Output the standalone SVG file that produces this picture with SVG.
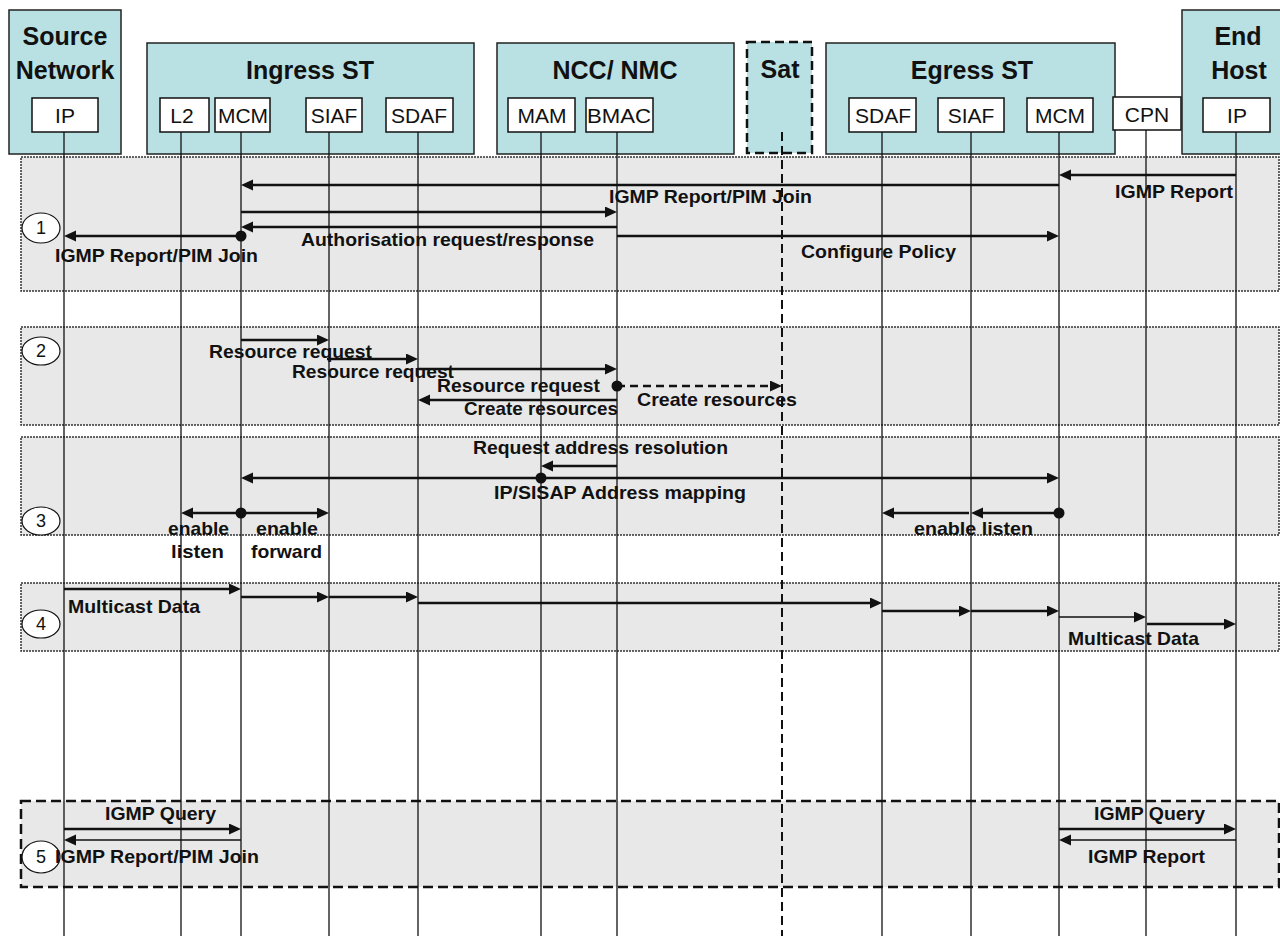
<svg xmlns="http://www.w3.org/2000/svg" width="1280" height="936" viewBox="0 0 1280 936">
<defs>
<style>
.hdr{fill:#b9e1e4;stroke:#222;stroke-width:1.5}
.sb{fill:#fff;stroke:#111;stroke-width:1.5}
.ht{font-family:"Liberation Sans",Arial,sans-serif;font-weight:bold;font-size:25px;fill:#111;text-anchor:middle}
.st{font-family:"Liberation Sans",Arial,sans-serif;font-size:21px;fill:#111;text-anchor:middle}
.sec{fill:#e8e8e8;stroke:#333;stroke-width:1.5;stroke-dasharray:2 1}
.sec5{fill:#e8e8e8;stroke:#111;stroke-width:2.5;stroke-dasharray:10 5}
.life{stroke:#111;stroke-width:1.3}
.lt{font-family:"Liberation Sans",Arial,sans-serif;font-weight:bold;font-size:19px;fill:#111}
.num{font-family:"Liberation Sans",Arial,sans-serif;font-size:18px;fill:#111;text-anchor:middle}
.num-c{fill:#fff;stroke:#111;stroke-width:1.2}
.a{stroke:#111;stroke-width:2.6;fill:none;marker-end:url(#ah)}
.an{stroke:#111;stroke-width:1.6;fill:none;marker-end:url(#ah)}
.ad{stroke:#111;stroke-width:2.4;fill:none;stroke-dasharray:8 5;marker-end:url(#ah)}
.dot{fill:#111}
</style>
<marker id="ah" markerUnits="userSpaceOnUse" markerWidth="13" markerHeight="12" refX="6" refY="5.5" orient="auto">
<path d="M0,0 L12,5.5 L0,11 z" fill="#111"/>
</marker>
</defs>
<rect width="1280" height="936" fill="#fff"/>

<g id="sections">
<rect class="sec" x="21" y="157" width="1258" height="134"/>
<rect class="sec" x="21" y="327" width="1258" height="98"/>
<rect class="sec" x="21" y="437" width="1258" height="98"/>
<rect class="sec" x="21" y="583" width="1258" height="68"/>
<rect class="sec5" x="21" y="801" width="1258" height="86"/>
</g>

<g id="source-network">
<rect class="hdr" x="9" y="10" width="112" height="144"/>
<text class="ht" x="65" y="45">Source</text>
<text class="ht" x="65" y="79">Network</text>
<rect class="sb" x="32" y="98" width="66" height="34"/>
<text class="st" x="65" y="123">IP</text>
</g>

<g id="ingress-st">
<rect class="hdr" x="147" y="43" width="327" height="111"/>
<text class="ht" x="310" y="79">Ingress ST</text>
<rect class="sb" x="160" y="98" width="49" height="34"/>
<text class="st" x="182" y="123">L2</text>
<rect class="sb" x="215" y="98" width="55" height="34"/>
<text class="st" x="243" y="123">MCM</text>
<rect class="sb" x="306" y="98" width="56" height="34"/>
<text class="st" x="334" y="123">SIAF</text>
<rect class="sb" x="386" y="98" width="67" height="34"/>
<text class="st" x="419" y="123">SDAF</text>
</g>

<g id="ncc-nmc">
<rect class="hdr" x="497" y="43" width="237" height="111"/>
<text class="ht" x="615" y="79">NCC/ NMC</text>
<rect class="sb" x="508" y="98" width="67" height="34"/>
<text class="st" x="542" y="123">MAM</text>
<rect class="sb" x="586" y="98" width="67" height="34"/>
<text class="st" x="619" y="123" textLength="64" lengthAdjust="spacingAndGlyphs">BMAC</text>
</g>

<g id="sat">
<rect x="747" y="42" width="65" height="111" fill="#b9e1e4" stroke="#111" stroke-width="2.5" stroke-dasharray="9 5"/>
<text class="ht" x="780" y="78">Sat</text>
</g>

<g id="egress-st">
<rect class="hdr" x="826" y="43" width="289" height="111"/>
<text class="ht" x="972" y="79">Egress ST</text>
<rect class="sb" x="849" y="98" width="67" height="34"/>
<text class="st" x="883" y="123">SDAF</text>
<rect class="sb" x="938" y="98" width="66" height="34"/>
<text class="st" x="971" y="123">SIAF</text>
<rect class="sb" x="1027" y="98" width="66" height="34"/>
<text class="st" x="1060" y="123">MCM</text>
</g>

<g id="cpn">
<rect class="sb" x="1113" y="97" width="68" height="33"/>
<text class="st" x="1147" y="122">CPN</text>
</g>

<g id="end-host">
<rect class="hdr" x="1182" y="10" width="110" height="144"/>
<text class="ht" x="1238" y="45">End</text>
<text class="ht" x="1239" y="79">Host</text>
<rect class="sb" x="1203" y="98" width="67" height="34"/>
<text class="st" x="1237" y="123">IP</text>
</g>

<g id="lifelines">
<line class="life" x1="64" y1="132" x2="64" y2="936"/>
<line class="life" x1="181" y1="132" x2="181" y2="936"/>
<line class="life" x1="241" y1="132" x2="241" y2="936"/>
<line class="life" x1="329" y1="132" x2="329" y2="936"/>
<line class="life" x1="418" y1="132" x2="418" y2="936"/>
<line class="life" x1="541" y1="132" x2="541" y2="936"/>
<line class="life" x1="617" y1="132" x2="617" y2="936"/>
<line x1="782" y1="132" x2="782" y2="936" stroke="#111" stroke-width="2" stroke-dasharray="9 5"/>
<line class="life" x1="882" y1="132" x2="882" y2="936"/>
<line class="life" x1="971" y1="132" x2="971" y2="936"/>
<line class="life" x1="1059" y1="132" x2="1059" y2="936"/>
<line class="life" x1="1146" y1="130" x2="1146" y2="936"/>
<line class="life" x1="1236" y1="132" x2="1236" y2="936"/>
</g>

<g id="step-markers">
<ellipse class="num-c" cx="41" cy="228" rx="19" ry="15"/>
<text class="num" x="41" y="234">1</text>
<ellipse class="num-c" cx="41" cy="351" rx="19" ry="14"/>
<text class="num" x="41" y="357">2</text>
<ellipse class="num-c" cx="41" cy="521" rx="19" ry="14"/>
<text class="num" x="41" y="527">3</text>
<ellipse class="num-c" cx="41" cy="624" rx="19" ry="14"/>
<text class="num" x="41" y="630">4</text>
<ellipse class="num-c" cx="41" cy="857" rx="19" ry="16"/>
<text class="num" x="41" y="863">5</text>
</g>

<g id="connectors">
<!-- section 1 -->
<line class="a" x1="1236" y1="175" x2="1065" y2="175"/>
<line class="a" x1="1059" y1="185" x2="247" y2="185"/>
<line class="a" x1="241" y1="212" x2="611" y2="212"/>
<line class="a" x1="617" y1="227" x2="247" y2="227"/>
<line class="a" x1="241" y1="236" x2="70" y2="236"/>
<circle class="dot" cx="241" cy="236" r="5.5"/>
<line class="a" x1="617" y1="236" x2="1053" y2="236"/>
<!-- section 2 -->
<line class="a" x1="241" y1="340" x2="323" y2="340"/>
<line class="a" x1="327" y1="359" x2="412" y2="359"/>
<line class="a" x1="418" y1="369" x2="611" y2="369"/>
<line class="ad" x1="617" y1="386" x2="776" y2="386"/>
<circle class="dot" cx="617" cy="386" r="5.5"/>
<line class="a" x1="617" y1="400" x2="424" y2="400"/>
<!-- section 3 -->
<line class="a" x1="617" y1="466" x2="547" y2="466"/>
<line class="a" x1="541" y1="478" x2="247" y2="478"/>
<line class="a" x1="541" y1="478" x2="1053" y2="478"/>
<circle class="dot" cx="541" cy="478" r="5.5"/>
<line class="a" x1="241" y1="513" x2="187" y2="513"/>
<line class="a" x1="241" y1="513" x2="323" y2="513"/>
<circle class="dot" cx="241" cy="513" r="5.5"/>
<line class="a" x1="1059" y1="513" x2="977" y2="513"/>
<line class="a" x1="969" y1="513" x2="888" y2="513"/>
<circle class="dot" cx="1059" cy="513" r="5.5"/>
<!-- section 4 -->
<line class="a" x1="64" y1="589" x2="235" y2="589"/>
<line class="a" x1="241" y1="597" x2="323" y2="597"/>
<line class="a" x1="329" y1="597" x2="412" y2="597"/>
<line class="a" x1="418" y1="603" x2="876" y2="603"/>
<line class="a" x1="882" y1="611" x2="965" y2="611"/>
<line class="a" x1="971" y1="611" x2="1053" y2="611"/>
<line class="an" x1="1059" y1="617" x2="1140" y2="617"/>
<line class="a" x1="1147" y1="624" x2="1230" y2="624"/>
<!-- section 5 -->
<line class="a" x1="64" y1="829" x2="235" y2="829"/>
<line class="an" x1="241" y1="840" x2="70" y2="840"/>
<line class="a" x1="1059" y1="829" x2="1230" y2="829"/>
<line class="an" x1="1236" y1="840" x2="1065" y2="840"/>
</g>

<g id="labels">
<text class="lt" x="1115" y="198" textLength="118" lengthAdjust="spacingAndGlyphs">IGMP Report</text>
<text class="lt" x="609" y="203" textLength="203" lengthAdjust="spacingAndGlyphs">IGMP Report/PIM Join</text>
<text class="lt" x="301" y="246" textLength="293" lengthAdjust="spacingAndGlyphs">Authorisation request/response</text>
<text class="lt" x="55" y="262" textLength="203" lengthAdjust="spacingAndGlyphs">IGMP Report/PIM Join</text>
<text class="lt" x="801" y="258" textLength="155" lengthAdjust="spacingAndGlyphs">Configure Policy</text>

<text class="lt" x="209" y="358" textLength="163" lengthAdjust="spacingAndGlyphs">Resource request</text>
<text class="lt" x="292" y="378" textLength="162" lengthAdjust="spacingAndGlyphs">Resource request</text>
<text class="lt" x="437" y="392" textLength="163" lengthAdjust="spacingAndGlyphs">Resource request</text>
<text class="lt" x="637" y="406" textLength="160" lengthAdjust="spacingAndGlyphs">Create resources</text>
<text class="lt" x="464" y="415" textLength="154" lengthAdjust="spacingAndGlyphs">Create resources</text>

<text class="lt" x="473" y="454" textLength="255" lengthAdjust="spacingAndGlyphs">Request address resolution</text>
<text class="lt" x="494" y="499" textLength="252" lengthAdjust="spacingAndGlyphs">IP/SISAP Address mapping</text>
<text class="lt" x="168" y="535" textLength="61" lengthAdjust="spacingAndGlyphs">enable</text>
<text class="lt" x="171" y="558" textLength="53" lengthAdjust="spacingAndGlyphs">listen</text>
<text class="lt" x="256" y="535" textLength="62" lengthAdjust="spacingAndGlyphs">enable</text>
<text class="lt" x="251" y="558" textLength="71" lengthAdjust="spacingAndGlyphs">forward</text>
<text class="lt" x="914" y="535" textLength="119" lengthAdjust="spacingAndGlyphs">enable listen</text>

<text class="lt" x="68" y="613" textLength="132" lengthAdjust="spacingAndGlyphs">Multicast Data</text>
<text class="lt" x="1068" y="645" textLength="131" lengthAdjust="spacingAndGlyphs">Multicast Data</text>

<text class="lt" x="105" y="820" textLength="111" lengthAdjust="spacingAndGlyphs">IGMP Query</text>
<text class="lt" x="55" y="863" textLength="204" lengthAdjust="spacingAndGlyphs">IGMP Report/PIM Join</text>
<text class="lt" x="1094" y="820" textLength="111" lengthAdjust="spacingAndGlyphs">IGMP Query</text>
<text class="lt" x="1088" y="863" textLength="117" lengthAdjust="spacingAndGlyphs">IGMP Report</text>
</g>
</svg>
